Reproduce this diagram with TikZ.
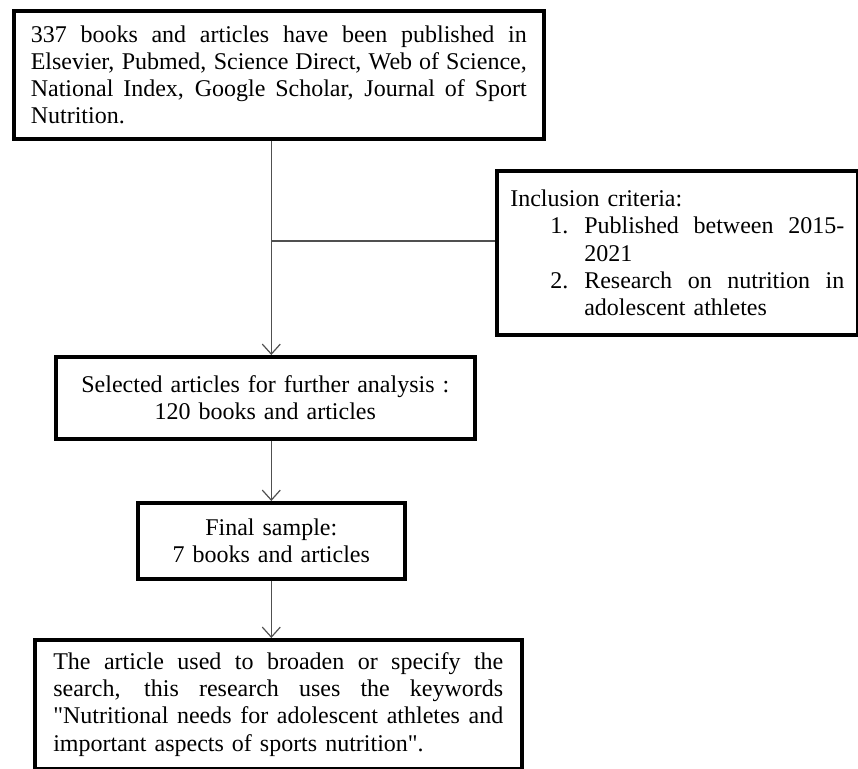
\documentclass[tikz,border=0pt]{standalone}
\usepackage{fontspec}
\setmainfont{Liberation Serif}
\usetikzlibrary{arrows.meta}
\definecolor{Ink}{HTML}{000000}
\definecolor{Wire}{HTML}{505050}
\newcommand{\jline}[2]{\makebox[#1][s]{\spaceskip=0pt\xspaceskip=0pt #2}}
\tikzset{panel/.style={draw=Ink,line width=1.8pt,anchor=north west,inner ysep=0pt,align=left,font=\fontsize{12}{13.6}\selectfont},wire/.style={line width=0.6pt,draw=Wire},link/.style={wire,-{Straight Barb[length=5pt,width=9pt]}}}

\begin{document}
\begin{tikzpicture}[x=0.5pt,y=-0.5pt]
\useasboundingbox (0,0) rectangle (858,768);
\node[panel,text width=248pt,inner xsep=8.5pt,minimum height=64pt] (src) at (12,9) {\jline{248pt}{337 books and articles have been published in}\\
\jline{248pt}{Elsevier, Pubmed, Science Direct, Web of Science,}\\
\jline{248pt}{National Index, Google Scholar, Journal of Sport}\\
Nutrition.};
\node[panel,text width=167pt,inner xsep=6.75pt,minimum height=82pt] (crit) at (495,169) {Inclusion criteria:\\
\hspace*{20pt}\makebox[17pt][l]{1.}\jline{130pt}{Published between 2015-}\\
\hspace*{37pt}2021\\
\hspace*{20pt}\makebox[17pt][l]{2.}\jline{130pt}{Research on nutrition in}\\
\hspace*{37pt}adolescent athletes};
\node[panel,align=center,text width=190pt,inner xsep=9.75pt,minimum height=41pt] (sel) at (54,355) {Selected articles for further analysis :\\120 books and articles};
\node[panel,align=center,text width=120pt,inner xsep=6.75pt,minimum height=38pt] (fin) at (136,501) {Final sample:\\7 books and articles};
\node[panel,text width=225pt,inner xsep=9.25pt,minimum height=64.5pt] (out) at (33,638) {\jline{225pt}{The article used to broaden or specify the}\\
\jline{225pt}{search, this research uses the keywords}\\
\jline{225pt}{\textquotedbl Nutritional needs for adolescent athletes and}\\
important aspects of sports nutrition\textquotedbl.};
\draw[link] (src.south -| fin.north) -- (sel.north -| fin.north);
\coordinate (tap) at (fin.north |- 0,241);
\draw[wire] (tap) -- (crit.west |- tap);
\draw[link] (sel.south -| fin.north) -- (fin.north);
\draw[link] (fin.south) -- (fin.south |- out.north);
\end{tikzpicture}
\end{document}
